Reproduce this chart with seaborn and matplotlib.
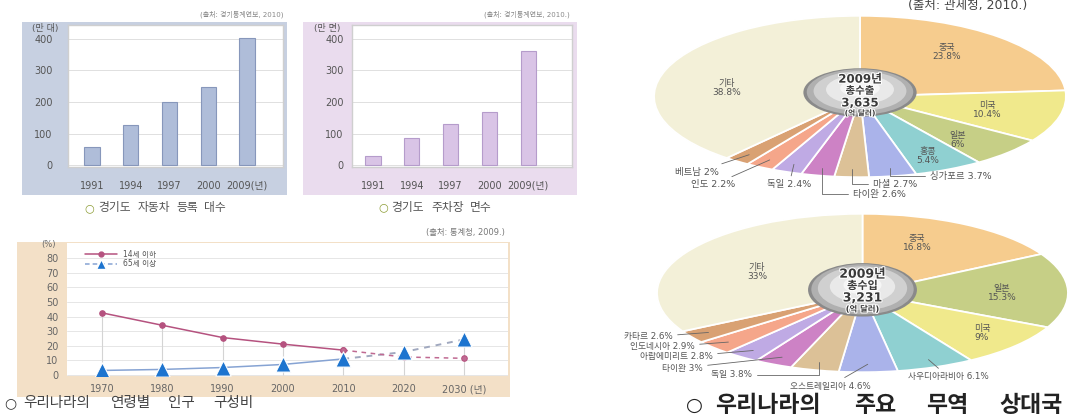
import numpy as np
import pandas as pd
import matplotlib
matplotlib.use("Agg")
import matplotlib.pyplot as plt
import seaborn as sns
from matplotlib.patches import Rectangle, Ellipse
from matplotlib.lines import Line2D
import matplotlib.patheffects as pe

# ---------------- data ----------------
bar_years = ["1991", "1994", "1997", "2000", "2009(년)"]
car_counts = [57, 127, 200, 247, 403]          # 만 대
parking_counts = [28, 85, 130, 168, 362]       # 만 면

pop_years = [1970, 1980, 1990, 2000, 2010, 2020, 2030]
pop_year_labels = ["1970", "1980", "1990", "2000", "2010", "2020", "2030 (년)"]
pop_0_14 = [42.5, 34.0, 25.6, 21.1, 17.0, 12.3, 11.4]
pop_65 = [3.1, 3.8, 5.1, 7.2, 11.0, 15.7, 24.3]

export_names = ["중국", "미국", "일본", "홍콩", "싱가포르", "마셜", "타이완", "독일", "인도", "베트남", "기타"]
export_shares = [23.8, 10.4, 6, 5.4, 3.7, 2.7, 2.6, 2.4, 2.2, 2, 38.8]
import_names = ["중국", "일본", "미국", "사우디아라비아", "오스트레일리아", "독일", "타이완",
                "아랍에미리트", "인도네시아", "카타르", "기타"]
import_shares = [16.8, 15.3, 9, 6.1, 4.6, 3.8, 3, 2.8, 2.9, 2.6, 33]

# ---------------- style ----------------
sns.set_theme(style="white")
plt.rcParams["font.family"] = ["DejaVu Sans", "Noto Sans CJK KR"]

W, H = 1078, 416
fig = plt.figure(figsize=(W / 100, H / 100), dpi=100)
fig.patch.set_facecolor("white")


def px_rect(x0, y0, x1, y1):
    return [x0 / W, 1 - y1 / H, (x1 - x0) / W, (y1 - y0) / H]


def add_box(x0, y0, x1, y1, color):
    fig.patches.append(Rectangle((x0 / W, 1 - y1 / H), (x1 - x0) / W, (y1 - y0) / H,
                                 transform=fig.transFigure, facecolor=color,
                                 edgecolor="none", zorder=-10))


def ftext(x, y, s, **kw):
    kw.setdefault("va", "center")
    return fig.text(x / W, 1 - y / H, s, **kw)


def spaced_caption(ring_x, x0, x1, y, text, fs, color, ring_color, weight="normal", ring_fs=None):
    """Caption with a ring symbol and words spread over [x0, x1] (wide-spaced look)."""
    ftext(ring_x, y, "○", ha="center", fontsize=ring_fs or fs, color=ring_color,
          fontweight="bold")
    words = text.split(" ")
    em = fs * 100 / 72.0
    widths = [len(w) * em for w in words]
    gap = (x1 - x0 - sum(widths)) / max(len(words) - 1, 1)
    x = x0
    for w, wd in zip(words, widths):
        ftext(x + wd / 2, y, w, ha="center", fontsize=fs, color=color, fontweight=weight)
        x += wd + gap


def pct(v):
    return f"{v:g}%"


# ---------------- bar panels ----------------
def bar_panel(axpx, vals, color, edge, xlim, ypad):
    ax = fig.add_axes(px_rect(*axpx))
    sns.barplot(x=bar_years, y=vals, color=color, saturation=1, width=0.39,
                edgecolor=edge, linewidth=0.8, ax=ax)
    ax.set_ylim(-6, 444)
    ax.set_xlim(*xlim)
    ax.set_yticks([0, 100, 200, 300, 400])
    ax.yaxis.grid(True, color="#e0e0e0", lw=0.7)
    ax.set_axisbelow(True)
    ax.set_facecolor("white")
    ax.tick_params(length=0, labelsize=7, colors="#555")
    ax.tick_params(axis="y", pad=ypad)
    ax.tick_params(axis="x", pad=10)
    for s in ax.spines.values():
        s.set_color("#cfcfcf")
        s.set_linewidth(1.0)
    ax.set_xlabel("")
    ax.set_ylabel("")
    return ax


add_box(22, 22, 287, 195, "#c7d0e1")
bar_panel((68, 25, 283, 167), car_counts, "#afbdd9", "#8797bb", (-0.62, 4.93), 11)
ftext(45, 29, "(만 대)", ha="center", fontsize=6.5, color="#555")
ftext(283, 14, "(출처: 경기통계연보, 2010)", ha="right", fontsize=5, color="#888")
spaced_caption(89, 97, 227, 208, "경기도 자동차 등록 대수", 8.5, "#555", "#8c9c34", ring_fs=8)

add_box(303, 22, 577, 195, "#eadcee")
bar_panel((352, 25, 572, 167), parking_counts, "#d9c4e6", "#b59ccb", (-0.54, 5.13), 6)
ftext(327, 29, "(만 면)", ha="center", fontsize=6.5, color="#555")
ftext(570, 14, "(출처: 경기통계연보, 2010.)", ha="right", fontsize=5, color="#888")
spaced_caption(383, 390, 493, 207, "경기도 주차장 면수", 8.5, "#555", "#8c9c34", ring_fs=8)

# ---------------- line panel ----------------
add_box(17, 242, 510, 397, "#f3e0c7")
ax3 = fig.add_axes(px_rect(67, 243, 508, 376))
ax3.set_facecolor("white")
df = pd.DataFrame({"year": pop_years, "young": pop_0_14, "old": pop_65})
solid = df[df.year <= 2010]
dashed = df[df.year >= 2010]
pink = "#b5527f"
blue_line = "#86a3d3"
tri = "#1d74cf"

ax3.vlines(df.year, 0, np.maximum(df.young, df.old), color="#d4d4d4", lw=0.8, zorder=1)
sns.lineplot(data=solid, x="year", y="young", color=pink, lw=1.1, marker="o", ms=4,
             markeredgecolor=pink, ax=ax3, zorder=3)
sns.lineplot(data=dashed, x="year", y="young", color="#c06a92", lw=1.1, linestyle=(0, (3, 3)),
             marker="o", ms=4, markeredgecolor=pink, ax=ax3, zorder=3)
sns.lineplot(data=solid, x="year", y="old", color=blue_line, lw=1.1, ax=ax3, zorder=2)
sns.lineplot(data=dashed, x="year", y="old", color="#a0a8bf", lw=1.4, linestyle=(0, (3, 3)),
             ax=ax3, zorder=2)
sns.scatterplot(data=df, x="year", y="old", marker="^", s=120, color=tri, edgecolor="white",
                linewidth=0.8, ax=ax3, zorder=4)
ax3.set_xlim(1964.2, 2037.3)
ax3.set_ylim(-0.7, 90.3)
ax3.set_xticks(pop_years)
ax3.set_xticklabels(pop_year_labels)
ax3.set_yticks(range(0, 81, 10))
ax3.yaxis.grid(True, color="#e6e6e6", lw=0.7)
ax3.set_axisbelow(True)
ax3.tick_params(length=0, labelsize=7, colors="#666")
ax3.tick_params(axis="y", pad=6)
ax3.tick_params(axis="x", pad=6)
for s in ax3.spines.values():
    s.set_visible(False)
ax3.set_xlabel("")
ax3.set_ylabel("")
handles = [Line2D([], [], color=pink, lw=1.1, marker="o", ms=3.5),
           Line2D([], [], color=blue_line, lw=1.1, ls=(0, (3, 2)), marker="^", ms=7,
                  markerfacecolor=tri, markeredgecolor="white")]
ax3.legend(handles, ["14세 이하", "65세 이상"], loc="upper left", bbox_to_anchor=(0.03, 0.985),
           frameon=False, fontsize=5.5, handlelength=4.2, labelspacing=0.1,
           handletextpad=0.8, borderpad=0.1, labelcolor="#555")
ftext(48, 245, "(%)", ha="center", fontsize=6, color="#666")
ftext(505, 232, "(출처: 통계청, 2009.)", ha="right", fontsize=6, color="#777")
spaced_caption(10, 20, 255, 403, "우리나라의 연령별 인구 구성비", 10.5, "#444", "#333", ring_fs=10)

# ---------------- pies ----------------
pie_colors = ["#f6cc8e", "#f0e98c", "#c6cf86", "#8fd0d1", "#aab3ea", "#dcc197",
              "#cd82c5", "#bfaae4", "#f5a68a", "#d9a173", "#f3f0d8"]
pie2_colors = ["#f6cc8e", "#c6cf86", "#f0e98c", "#8fd0d1", "#aab3ea", "#dcc197",
               "#cd82c5", "#bfaae4", "#f5a68a", "#d9a173", "#f3f0d8"]


def pie_panel(axpx, shares, colors):
    ax = fig.add_axes(px_rect(*axpx))
    ax.pie(shares, colors=colors, startangle=90, counterclock=False,
           wedgeprops=dict(edgecolor="white", linewidth=1.3))
    ax.set_aspect("auto")
    ax.set_xlim(-1.01, 1.01)
    ax.set_ylim(-1.01, 1.01)
    ax.axis("off")
    return ax


def mid_point(shares, i, r):
    total = float(sum(shares))
    cum = sum(shares[:i]) + shares[i] / 2.0
    ang = np.deg2rad(90 - 360 * cum / total)
    return r * np.cos(ang), r * np.sin(ang)


def sphere(ax, cy, w, h, lines, sizes, offsets):
    for scale, col, dy in [(1.0, "#8a8a8a", 0), (0.94, "#b0b0b0", 0.01),
                           (0.82, "#d0d0d0", 0.03), (0.6, "#e9e9e9", 0.06),
                           (0.35, "#f6f6f6", 0.09)]:
        ax.add_patch(Ellipse((0, cy + dy * h), w * scale, h * scale, facecolor=col,
                             edgecolor="none", zorder=5))
    for t, fs, y in zip(lines, sizes, offsets):
        ax.text(0, y, t, ha="center", va="center", fontsize=fs, color="#3a3a3a", zorder=6,
                fontweight="bold",
                path_effects=[pe.withStroke(linewidth=1.5, foreground="white")])


def inner_label(x, y, name, v):
    ftext(x, y, f"{name}\n{pct(v)}", ha="center", fontsize=6.5, color="#555",
          linespacing=1.1)


def outer_label(ax, shares, i, name, x, y, ha, conn, fs=6.8):
    xy = mid_point(shares, i, 0.9)
    ax.annotate(f"{name} {pct(shares[i])}", xy=xy, xycoords="data",
                xytext=(x, H - y), textcoords="figure pixels", ha=ha, va="center",
                fontsize=fs, color="#555", zorder=7, annotation_clip=False,
                arrowprops=dict(arrowstyle="-", color="#666", lw=0.6,
                                connectionstyle=conn, shrinkA=1, shrinkB=0))


# export pie
axp1 = pie_panel((652, 15, 1068, 178), export_shares, pie_colors)
sphere(axp1, 0.05, 0.55, 0.6, ["2009년", "총수출", "3,635", "(억 달러)"],
       [8.5, 7.5, 8.5, 5.5], [0.215, 0.07, -0.08, -0.205])
ftext(968, 5, "(출처: 관세청, 2010.)", ha="center", fontsize=9, color="#444")
for i, (x, y) in zip([0, 1, 2, 3, 10], [(947, 52), (987, 110), (958, 140), (928, 156), (727, 88)]):
    inner_label(x, y, export_names[i], export_shares[i])
ang = "angle,angleA=0,angleB=90,rad=0"
for i, x, y, ha, conn in [(4, 930, 176, "left", ang), (5, 873, 184, "left", ang),
                          (6, 853, 194, "left", ang), (7, 789, 185, "center", "arc3"),
                          (8, 713, 185, "center", "arc3"), (9, 697, 172, "center", "arc3")]:
    outer_label(axp1, export_shares, i, export_names[i], x, y, ha, conn)

# import pie
axp2 = pie_panel((655, 213, 1070, 373), import_shares, pie2_colors)
sphere(axp2, 0.04, 0.53, 0.675, ["2009년", "총수입", "3,231", "(억 달러)"],
       [9, 8, 9, 6], [0.2375, 0.0875, -0.0625, -0.205])
for i, (x, y) in zip([0, 1, 2, 10], [(917, 243), (1002, 293), (982, 333), (757, 272)]):
    inner_label(x, y, import_names[i], import_shares[i])
for i, x, y, ha, conn in [(9, 673, 337, "right", "arc3"), (8, 695, 347, "right", "arc3"),
                          (7, 713, 357, "right", "arc3"), (6, 703, 368, "right", "arc3"),
                          (5, 711, 375, "left", ang), (4, 830, 386, "center", "arc3"),
                          (3, 908, 377, "left", "arc3")]:
    outer_label(axp2, import_shares, i, import_names[i], x, y, ha, conn, fs=6.3)

spaced_caption(694, 711, 1065, 405.5, "우리나라의 주요 무역 상대국", 16.5, "#222", "#222",
               weight="bold", ring_fs=14)

fig.savefig("out.png", dpi=100)
